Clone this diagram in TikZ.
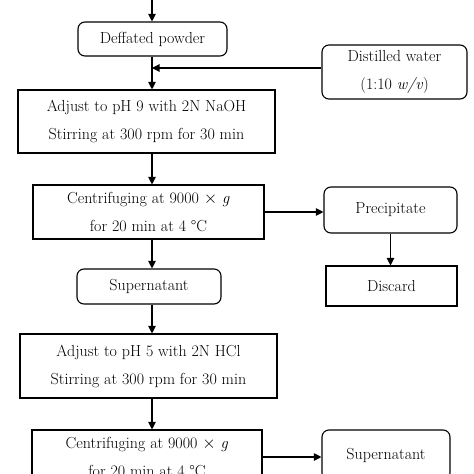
\documentclass[tikz,border=0pt]{standalone}
\usetikzlibrary{arrows.meta}
\tikzset{
  procbox/.style={draw, line width=1.1pt, align=center, inner sep=0pt,
    font=\fontsize{16}{28}\selectfont},
  roundbox/.style={procbox, rounded corners=7pt},
  flow/.style={line width=1.1pt, -{Triangle[length=7.5pt,width=7.5pt]}},
}
\begin{document}
\begin{tikzpicture}[x=1pt, y=-1pt]

        \useasboundingbox (0,0) rectangle (474,474);
        \clip (0,0) rectangle (474,474);

        %% boxes
        \coordinate (start) at (152,0); % top of main line
        \node[roundbox, minimum width=149pt, minimum height=34pt] (powder) at (152.5,39) {Deffated powder};
        \node[roundbox, minimum width=145pt, minimum height=54pt] (water) at (394.5,72) {Distilled water\\(1:10 \textit{w/v})};
        \node[procbox, minimum width=257pt, minimum height=63pt] (adjustA) at (146.5,121.5) {Adjust to pH 9 with 2N NaOH\\Stirring at 300 rpm for 30 min};
        \node[procbox, minimum width=231pt, minimum height=54pt] (centriA) at (148.5,212) {Centrifuging at 9000 $\times$ \textit{g}\\for 20 min at 4 °C};
        \node[roundbox, minimum width=133pt, minimum height=46pt] (precip) at (390.5,210) {Precipitate};
        \node[procbox, minimum width=131pt, minimum height=40pt] (discard) at (391.5,286) {Discard};
        \node[roundbox, minimum width=144pt, minimum height=35pt] (superA) at (149,286.5) {Supernatant};
        \node[procbox, minimum width=257pt, minimum height=64pt] (adjustB) at (148.5,366) {Adjust to pH 5 with 2N HCl\\Stirring at 300 rpm for 30 min};
        \node[procbox, minimum width=230pt, minimum height=54pt] (centriB) at (147,457) {Centrifuging at 9000 $\times$ \textit{g}\\for 20 min at 4 °C};
        \node[roundbox, minimum width=128pt, minimum height=50pt] (superB) at (386,455) {Supernatant};

        % arrows
        \draw[flow] (start) -- (powder.north -| start);
        \draw[flow] (powder.south -| start) -- (adjustA.north -| start);
        \draw[flow] ([yshift=4pt]water.west) -- ([yshift=4pt]water.west -| start);
        \draw[flow] (adjustA.south -| start) -- (centriA.north -| start);
        \draw[flow] (centriA.east) -- (precip.west |- centriA.east);
        \draw[flow] (precip.south) -- (discard.north -| precip.south);
        \draw[flow] (centriA.south -| start) -- (superA.north -| start);
        \draw[flow] (superA.south -| start) -- (adjustB.north -| start);
        \draw[flow] (adjustB.south -| start) -- (centriB.north -| start);
        \draw[flow] (centriB.east) -- (superB.west |- centriB.east);
    \end{tikzpicture}
\end{document}
